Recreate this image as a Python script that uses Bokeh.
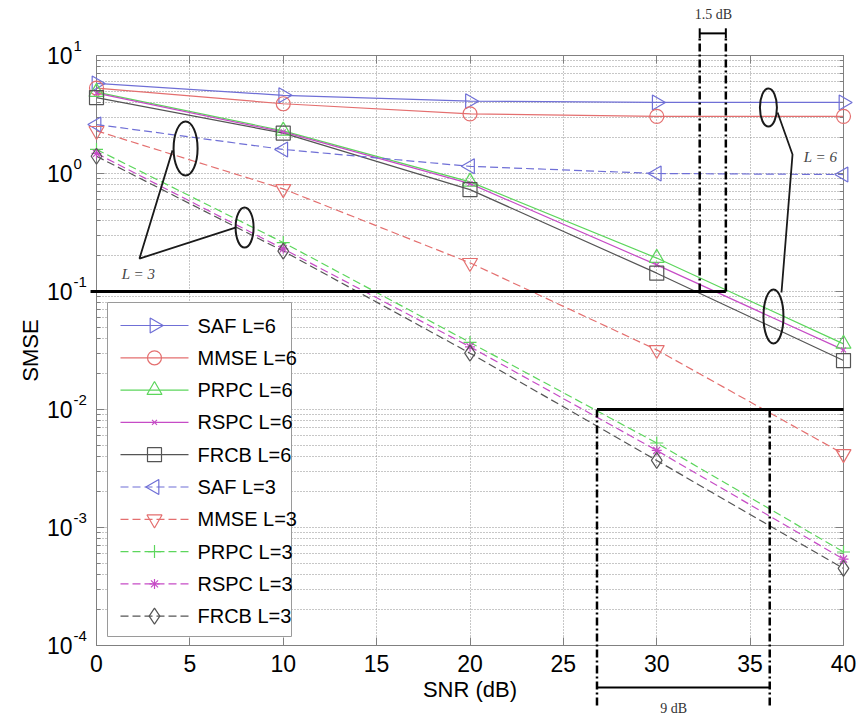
import numpy as np
from bokeh.plotting import figure
from bokeh.models import (Range1d, FixedTicker, LinearAxis, LogAxis, LinearScale,
                          CustomJSTickFormatter)
from bokeh.core.properties import value
from bokeh.embed import file_html
from bokeh.resources import INLINE

# ---------------- data ----------------
snr_db = [0, 10, 20, 30, 40]
saf_l6 = [5.8, 4.6, 4.1, 4.0, 4.0]
mmse_l6 = [5.3, 3.9, 3.2, 3.05, 3.05]
prpc_l6 = [4.9, 2.3, 0.85, 0.192, 0.036]
rspc_l6 = [4.8, 2.25, 0.82, 0.168, 0.032]
frcb_l6 = [4.4, 2.2, 0.73, 0.143, 0.026]
saf_l3 = [2.6, 1.6, 1.15, 1.0, 0.98]
mmse_l3 = [2.3, 0.74, 0.175, 0.032, 0.0042]
prpc_l3 = [1.6, 0.26, 0.037, 0.0052, 0.00062]
rspc_l3 = [1.48, 0.23, 0.034, 0.0045, 0.00054]
frcb_l3 = [1.4, 0.22, 0.030, 0.0037, 0.00045]

x_ticks = [0, 5, 10, 15, 20, 25, 30, 35, 40]
y_ticks = [1e-4, 1e-3, 1e-2, 1e-1, 1e0, 1e1]
y_tick_base = ["10", "10", "10", "10", "10", "10"]
y_tick_exp = ["-4", "-3", "-2", "-1", "0", "1"]
y_minor = [m * 10.0 ** e for e in range(-4, 1) for m in range(2, 10)]

labels = ["SAF L=6", "MMSE L=6", "PRPC L=6", "RSPC L=6", "FRCB L=6",
          "SAF L=3", "MMSE L=3", "PRPC L=3", "RSPC L=3", "FRCB L=3"]
values = [saf_l6, mmse_l6, prpc_l6, rspc_l6, frcb_l6,
          saf_l3, mmse_l3, prpc_l3, rspc_l3, frcb_l3]

# ---------------- styles ----------------
C_SAF, C_MMSE, C_PRPC, C_RSPC, C_FRCB = "#6f6fd6", "#e46f6f", "#5cd65c", "#c64cc6", "#555555"
styles = [
    (C_SAF, "triangle", -np.pi / 2, 15, "solid"),
    (C_MMSE, "circle", 0, 14, "solid"),
    (C_PRPC, "triangle", 0, 15, "solid"),
    (C_RSPC, "x", 0, 7, "solid"),
    (C_FRCB, "square", 0, 14, "solid"),
    (C_SAF, "triangle", np.pi / 2, 15, "8 4"),
    (C_MMSE, "inverted_triangle", 0, 15, "8 4"),
    (C_PRPC, "cross", 0, 13, "8 4"),
    (C_RSPC, "asterisk", 0, 10, "8 4"),
    (C_FRCB, "diamond", 0, 16, "8 4"),
]

AX = "#808080"
GRID = "#8f8f8f"
FONT = "Liberation Sans"
SERIF = "Liberation Serif"
FRAME_W, FRAME_H = 747, 590
PX_PER_DB = FRAME_W / 40.0

p = figure(width=858, height=718, x_range=Range1d(0, 40), y_range=Range1d(1e-4, 10),
           y_axis_type="log", output_backend="svg", toolbar_location=None,
           min_border_left=96, min_border_right=15, min_border_top=55, min_border_bottom=73,
           background_fill_color="white", border_fill_color="white")
p.outline_line_color = AX
p.extra_x_ranges = {"px": Range1d(0, FRAME_W)}
p.extra_y_ranges = {"px": Range1d(0, FRAME_H)}
p.extra_x_scales = {"px": LinearScale()}
p.extra_y_scales = {"px": LinearScale()}

blank = CustomJSTickFormatter(code="return '';")
xt = FixedTicker(ticks=x_ticks)
yt = FixedTicker(ticks=y_ticks, minor_ticks=y_minor)

def style_axis(ax, is_x):
    ax.axis_line_color = AX
    ax.major_tick_line_color = AX
    ax.minor_tick_line_color = None if is_x else AX
    ax.major_tick_in = 8
    ax.major_tick_out = 0
    ax.minor_tick_in = 4
    ax.minor_tick_out = 0
    ax.major_label_text_font = FONT
    ax.major_label_text_font_size = "23px"
    ax.major_label_text_color = "black"
    ax.axis_label_text_font = FONT
    ax.axis_label_text_font_size = "22px"
    ax.axis_label_text_font_style = "normal"
    ax.axis_label_text_color = "black"

xa = p.xaxis[0]
xa.ticker = xt
style_axis(xa, True)
xa.axis_label = "SNR (dB)"
xa.major_label_standoff = 9
xa.axis_label_standoff = 2

ya = p.yaxis[0]
ya.ticker = yt
ya.formatter = blank
style_axis(ya, False)
ya.axis_label = "SMSE"
ya.major_label_standoff = 0
ya.axis_label_standoff = 54

top_ax = LinearAxis(ticker=xt, formatter=blank, major_label_standoff=0)
style_axis(top_ax, True)
p.add_layout(top_ax, "above")
right_ax = LogAxis(ticker=yt, formatter=blank, major_label_standoff=0)
style_axis(right_ax, False)
p.add_layout(right_ax, "right")

p.xgrid.ticker = xt
p.ygrid.ticker = yt
for g in (p.xgrid, p.ygrid):
    g.grid_line_color = GRID
    g.grid_line_dash = "1 2"
    g.grid_line_width = 1
p.ygrid.minor_grid_line_color = GRID
p.ygrid.minor_grid_line_dash = "1 2"

# y tick labels "10" with superscript exponent (placed at the tick values)
x0s = [0] * len(y_ticks)
p.text(x=x0s, y=y_ticks, text=y_tick_base, x_offset=-24, text_align="right",
       text_baseline="middle", text_font=value(FONT), text_font_size="23px",
       text_color="black", level="overlay")
p.text(x=x0s, y=y_ticks, text=y_tick_exp, x_offset=-23, y_offset=-10, text_align="left",
       text_baseline="middle", text_font=value(FONT), text_font_size="15px",
       text_color="black", level="overlay")

for ys, (col, mk, ang, sz, dash) in zip(values, styles):
    p.line(snr_db, ys, line_color=col, line_width=1.2, line_dash=dash)
    p.scatter(snr_db, ys, marker=mk, angle=ang, size=sz, line_color=col,
              fill_color=None, line_width=1.2, level="overlay")

# ---------------- annotations ----------------
INK = "#1a1a1a"
DD = "8 3 2 3"
HEAD_L, HEAD_W = 10, 4.5

def over_line(xs, ys, w=2.5, dash="solid"):
    p.line(xs, ys, line_color="black", line_width=w, line_dash=dash, level="overlay")

def to_px(x, y):
    return x * PX_PER_DB, (np.log10(y) + 4) / 5 * FRAME_H

def dbl_arrow(x0, x1, y):
    over_line([x0, x1], [y, y], w=2)
    ax0, ay = to_px(x0, y)
    ax1, _ = to_px(x1, y)
    xs = [[ax0, ax0 + HEAD_L, ax0 + HEAD_L], [ax1, ax1 - HEAD_L, ax1 - HEAD_L]]
    ys = [[ay, ay + HEAD_W, ay - HEAD_W], [ay, ay + HEAD_W, ay - HEAD_W]]
    p.patches(xs, ys, x_range_name="px", y_range_name="px", fill_color="black",
              line_color="black", line_width=1, level="overlay")

def note(x, y, txt, size="14px", style="normal", color="#333333"):
    p.text(x=[x], y=[y], text=[txt], text_font=value(SERIF), text_font_style=style,
           text_font_size=size, text_align="center", text_baseline="middle",
           text_color=color, level="overlay")

# threshold lines
over_line([-0.32, 33.7], [0.1, 0.1], w=3)
over_line([26.8, 40], [0.01, 0.01], w=3)

# 1.5 dB
over_line([32.3, 32.3], [0.1, 13.9], dash=DD)
over_line([33.7, 33.7], [0.1, 13.9], dash=DD)
over_line([32.3, 32.3], [14.0, 17.0], w=2)
over_line([33.7, 33.7], [14.0, 17.0], w=2)
dbl_arrow(32.3, 33.7, 15.4)
note(33.04, 22.2, "1.5 dB")

# 9 dB
over_line([26.8, 26.8], [0.01, 3.1e-5], dash=DD)
over_line([36.05, 36.05], [0.01, 3.1e-5], dash=DD)
dbl_arrow(26.8, 36.05, 4.4e-5)
note(30.9, 2.92e-5, "9 dB")

# L = 3 callout
p.ellipse(x=[4.77, 7.93], y=[1.63, 0.348], width=[24, 18], height=[54, 40],
          width_units="screen", height_units="screen", fill_color=None,
          line_color=INK, line_width=2)
p.line([4.07, 2.30, 7.44], [1.57, 0.190, 0.348], line_color=INK, line_width=1.8)
note(2.25, 0.142, "L = 3", size="15px", style="italic", color="#444444")

# L = 6 callout
p.ellipse(x=[35.98, 36.25], y=[3.62, 0.0614], width=[17, 20], height=[38, 54],
          width_units="screen", height_units="screen", fill_color=None,
          line_color=INK, line_width=2)
p.line([36.47, 37.27, 36.68], [3.29, 1.45, 0.098], line_color=INK, line_width=1.8)
note(38.77, 1.37, "L = 6", size="15px", style="italic", color="#444444")

# ---------------- legend (drawn in frame pixel units) ----------------
LG_L, LG_R, LG_B, LG_T = 11, 195, 9, 343
ITEM_Y0, ITEM_DY = 320, 32.3
GX0, GX1, TX = 24, 92, 101
p.quad(left=[LG_L], right=[LG_R], bottom=[LG_B], top=[LG_T], x_range_name="px",
       y_range_name="px", fill_color="white", line_color="#9a9a9a", line_width=1)
for i, (lab, (col, mk, ang, sz, dash)) in enumerate(zip(labels, styles)):
    yy = ITEM_Y0 - i * ITEM_DY
    p.line([GX0, GX1], [yy, yy], x_range_name="px", y_range_name="px",
           line_color=col, line_width=1.2, line_dash=dash)
    p.scatter([(GX0 + GX1) / 2], [yy], x_range_name="px", y_range_name="px", marker=mk,
              angle=ang, size=sz, line_color=col, fill_color=None, line_width=1.2)
    p.text(x=[TX], y=[yy], text=[lab], x_range_name="px", y_range_name="px",
           text_font=value(FONT), text_font_size="20px", text_baseline="middle",
           text_align="left", text_color="black")

open("out.html", "w").write(file_html(p, INLINE))
